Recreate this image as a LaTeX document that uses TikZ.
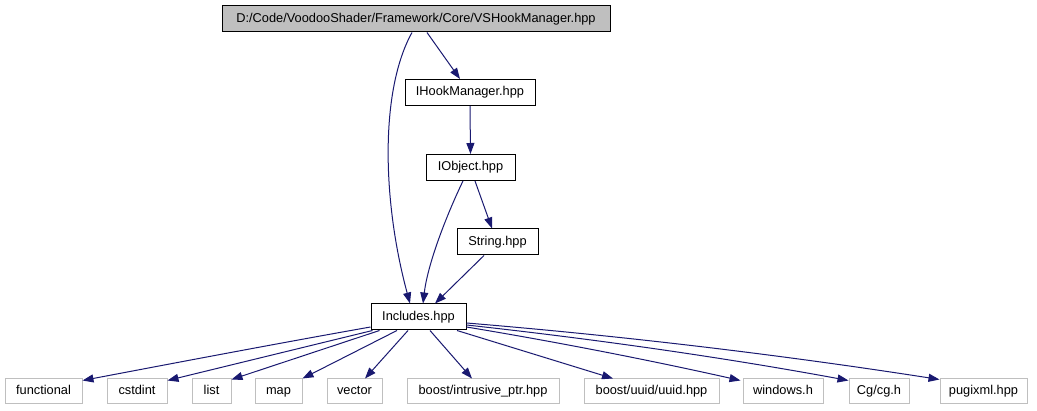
\documentclass[tikz,border=0pt]{standalone}
\usepackage{fontspec}
\setmainfont{Liberation Sans}
\usetikzlibrary{arrows.meta}
\definecolor{edgeblue}{RGB}{25,25,112}
\definecolor{boxgray}{RGB}{191,191,191}
\begin{document}
\begin{tikzpicture}[x=1pt,y=-1pt,
  box/.style={draw=black,line width=1pt,minimum height=26pt,inner sep=0pt,text height=9.2pt,text depth=2.6pt,font=\fontsize{12.8}{14}\selectfont,text=black},
  extbox/.style={draw=boxgray,line width=1pt,minimum height=25pt,inner sep=0pt,text height=9.2pt,text depth=2.6pt,font=\fontsize{12.8}{14}\selectfont,text=black},
  edge/.style={draw=edgeblue,line width=1pt,-{Triangle[length=11pt,width=8pt]},fill=none},
]
\useasboundingbox (0,0) rectangle (1037,411);
\node[box,fill=boxgray,minimum width=388pt] (top) at (416,19) {D:/Code/VoodooShader/Framework/Core/VSHookManager.hpp};
\node[box,minimum width=130pt] (ihm) at (470,92.5) {IHookManager.hpp};
\node[box,minimum width=89pt] (iob) at (470.5,167.5) {IObject.hpp};
\node[box,minimum width=81pt] (str) at (497.5,242) {String.hpp};
\node[box,minimum width=95pt] (inc) at (418.5,317) {Includes.hpp};

\node[extbox,minimum width=77pt] (func) at (43.5,391.5) {functional};
\node[extbox,minimum width=60pt] (cst) at (137,391.5) {cstdint};
\node[extbox,minimum width=39pt] (lst) at (211.5,391.5) {list};
\node[extbox,minimum width=47pt] (map) at (278.5,391.5) {map};
\node[extbox,minimum width=55pt] (vec) at (354.5,391.5) {vector};
\node[extbox,minimum width=152pt] (intr) at (483,391.5) {boost/intrusive\_ptr.hpp};
\node[extbox,minimum width=135pt] (uuid) at (651.5,391.5) {boost/uuid/uuid.hpp};
\node[extbox,minimum width=80pt] (win) at (783,391.5) {windows.h};
\node[extbox,minimum width=60pt] (cg) at (879,391.5) {Cg/cg.h};
\node[extbox,minimum width=87pt] (pug) at (983.5,391.5) {pugixml.hpp};

% upper edges
\draw[edge] ([xshift=11pt]top.south) -- ([xshift=-10pt]ihm.north);
\draw[edge] ([xshift=-4pt]top.south) .. controls (380,90) and (382,200) .. ([xshift=-8.5pt]inc.north);
\draw[edge] (ihm.south) -- (iob.north);
\draw[edge] ([xshift=4.5pt]iob.south) -- ([xshift=-5.5pt]str.north);
\draw[edge] ([xshift=-7.5pt]iob.south) .. controls (448,212) and (428,262) .. ([xshift=4.5pt]inc.north);
\draw[edge] ([xshift=-13.5pt]str.south) -- ([xshift=16.5pt]inc.north);

% lower edges
\draw[edge] ([yshift=-10pt]inc.west) .. controls (280,343) and (180,362) .. ([yshift=-2pt]func.north east);
\draw[edge] ([xshift=2pt]inc.south west) -- ([yshift=-2pt]cst.north east);
\draw[edge] ([xshift=9pt]inc.south west) -- ([yshift=-1pt]lst.north east);
\draw[edge] ([xshift=-21.5pt]inc.south) -- (map.north east);
\draw[edge] ([xshift=-10.5pt]inc.south) -- ([xshift=10.5pt]vec.north);
\draw[edge] ([xshift=11.5pt]inc.south) -- ([xshift=-11pt]intr.north);
\draw[edge] ([xshift=38.5pt]inc.south) -- ([xshift=-38.5pt]uuid.north);
\draw[edge] ([yshift=-10pt]inc.east) .. controls (557,342) and (649,360) .. ([yshift=-2pt,xshift=-2pt]win.north west);
\draw[edge] ([yshift=-8pt]inc.east) .. controls (594,339) and (721,357) .. ([yshift=-2pt]cg.north west);
\draw[edge] ([yshift=-6pt]inc.east) .. controls (624,336) and (782,355) .. ([yshift=-1pt]pug.north west);
\end{tikzpicture}
\end{document}
